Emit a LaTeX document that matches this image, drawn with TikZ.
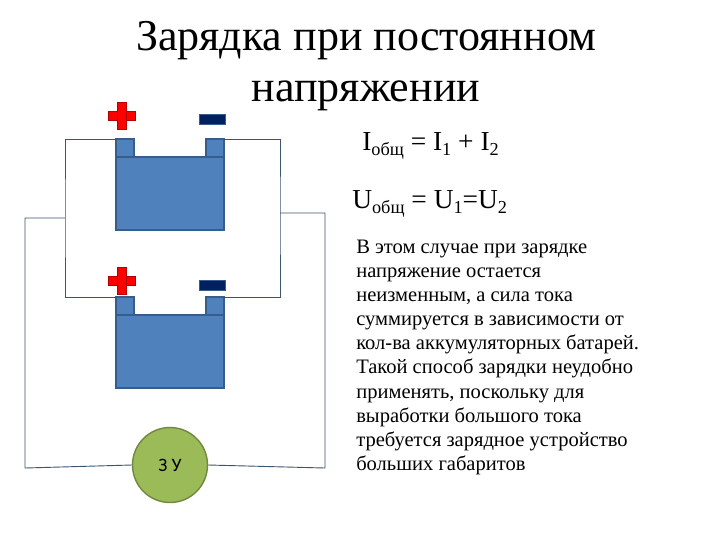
\documentclass[tikz,border=0pt]{standalone}
\usepackage{fontspec}
\setmainfont{Liberation Serif}
\newfontfamily\labelfont{Carlito}
\usepackage{tikz}
\usetikzlibrary{calc}
\definecolor{battfill}{RGB}{79,129,189}
\definecolor{battline}{RGB}{56,93,138}
\definecolor{wirecol}{RGB}{60,85,110}
\definecolor{minuscol}{RGB}{0,32,96}
\definecolor{zufill}{RGB}{155,187,89}
\definecolor{zuline}{RGB}{113,137,63}
\newcommand{\subtxt}[1]{\raisebox{-4pt}{\fontsize{13}{14}\selectfont #1}}
\tikzset{
  wire/.style={draw=wirecol,line width=0.65pt},
  battbody/.style={draw=battline,fill=battfill,line width=0.9pt,minimum width=108*0.025cm,minimum height=73*0.025cm,inner sep=0pt,outer sep=0pt},
  battpin/.style={draw=battline,fill=battfill,line width=0.9pt,minimum width=18*0.025cm,minimum height=18*0.025cm,inner sep=0pt,outer sep=0pt},
  minusbar/.style={fill=minuscol,draw=battline,line width=0.3pt,minimum width=26*0.025cm,minimum height=10*0.025cm,inner sep=0pt},
  plusbar/.style={fill=red,draw=red!70!black,line width=0.3pt,inner sep=0pt},
  formula/.style={inner sep=0pt,anchor=base west,font=\fontsize{19.5}{24}\selectfont}
}
\begin{document}
\begin{tikzpicture}[x=0.025cm,y=-0.025cm]
\useasboundingbox (0,0) rectangle (720,540);
% title
\node[inner sep=0pt,align=center,font=\fontsize{31.3}{36}\selectfont] (title) at (366,66) {Зарядка при постоянном\\напряжении};
% formulas
\node[formula] (itotal) at (362,150) {I\subtxt{общ} = I\subtxt{1} + I\subtxt{2}};
\node[formula] (utotal) at (352,208) {U\subtxt{общ} = U\subtxt{1}=U\subtxt{2}};
\node[inner sep=0pt,anchor=north west,align=left,font=\fontsize{14.6}{17.1}\selectfont] (descr) at (356,240) {В этом случае при зарядке\\напряжение остается\\неизменным, а сила тока\\суммируется в зависимости от\\кол-ва аккумуляторных батарей.\\Такой способ зарядки неудобно\\применять, поскольку для\\выработки большого тока\\требуется зарядное устройство\\больших габаритов};
% batteries
\foreach \name/\ytop/\yplus/\yminus in {upper/157/116/119,lower/315/281/285}{
  \node[battbody,anchor=north west] (\name body) at (116,\ytop) {};
  \node[battpin,anchor=south west] (\name left) at (\name body.north west) {};
  \node[battpin,anchor=south east] (\name right) at (\name body.north east) {};
  \node[minusbar] (\name minus) at (212,\yminus) {};
  \node[plusbar,minimum width=27*0.025cm,minimum height=9*0.025cm] (\name plush) at (122,\yplus) {};
  \node[plusbar,minimum width=9*0.025cm,minimum height=27*0.025cm] (\name plusv) at (\name plush) {};
  \node[fill=red,inner sep=0pt,minimum width=8.4*0.025cm,minimum height=8.4*0.025cm] at (\name plush) {};
}
% charger
\node[circle,draw=zuline,fill=zufill,line width=1pt,minimum size=75*0.025cm,inner sep=0pt,font=\labelfont\fontsize{13.5}{15}\selectfont] (zu) at (170,465) {З У};
% wires
\coordinate (leftbus) at (65,218);
\coordinate (rightbus) at (280,213);
\draw[wire] (upperleft.north west) -| (leftbus) |- (lowerleft.north west);
\draw[wire] (upperright.north east) -| (rightbus) |- (lowerright.north east);
\draw[wire] (leftbus) -| (25,468) -- (zu.west);
\draw[wire] (rightbus) -| (325,468) -- (zu.east);
\end{tikzpicture}
\end{document}
